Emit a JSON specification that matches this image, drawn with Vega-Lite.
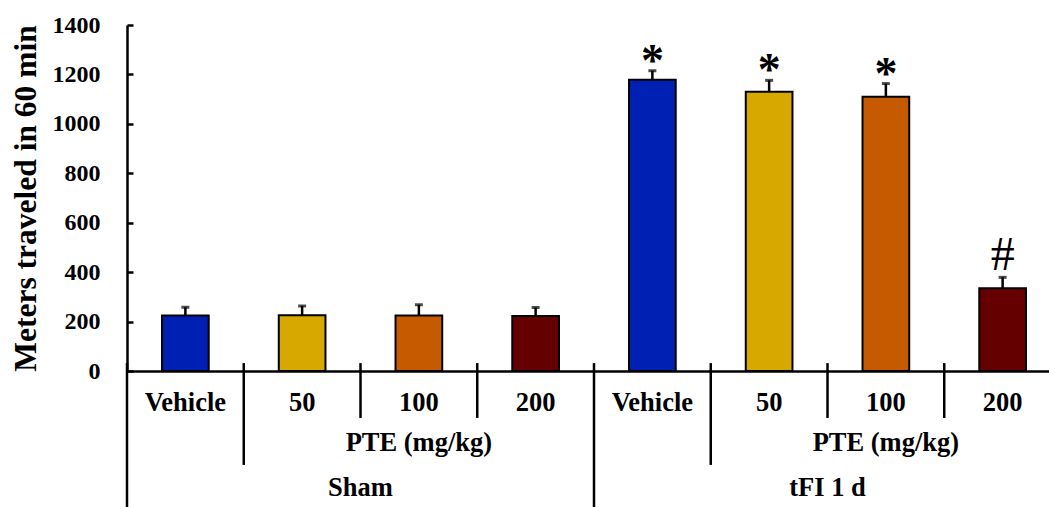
{
  "$schema": "https://vega.github.io/schema/vega-lite/v6.json",
  "autosize": "none",
  "padding": {"left": 127, "top": 25, "right": 0, "bottom": 136},
  "width": 934,
  "height": 346,
  "background": "white",
  "config": {"view": {"stroke": null}, "font": "Liberation Serif"},
  "datasets": {
    "bars": [
      {"key": "Sham|Vehicle", "group": "Sham", "dose": "Vehicle", "value": 225, "hi": 258, "sig": ""},
      {"key": "Sham|50", "group": "Sham", "dose": "50", "value": 226, "hi": 263, "sig": ""},
      {"key": "Sham|100", "group": "Sham", "dose": "100", "value": 225, "hi": 268, "sig": ""},
      {"key": "Sham|200", "group": "Sham", "dose": "200", "value": 223, "hi": 257, "sig": ""},
      {"key": "tFI 1 d|Vehicle", "group": "tFI 1 d", "dose": "Vehicle", "value": 1178, "hi": 1215, "sig": "*"},
      {"key": "tFI 1 d|50", "group": "tFI 1 d", "dose": "50", "value": 1130, "hi": 1176, "sig": "*"},
      {"key": "tFI 1 d|100", "group": "tFI 1 d", "dose": "100", "value": 1110, "hi": 1163, "sig": "*"},
      {"key": "tFI 1 d|200", "group": "tFI 1 d", "dose": "200", "value": 335, "hi": 379, "sig": "#"}
    ],
    "seps": [
      {"key": "Sham|Vehicle", "len": "long"},
      {"key": "Sham|50", "len": "mid"},
      {"key": "Sham|100", "len": "short"},
      {"key": "Sham|200", "len": "short"},
      {"key": "tFI 1 d|Vehicle", "len": "long"},
      {"key": "tFI 1 d|50", "len": "mid"},
      {"key": "tFI 1 d|100", "len": "short"},
      {"key": "tFI 1 d|200", "len": "short"}
    ],
    "groups": [
      {"key": "Sham|100", "group": "Sham", "sub": "PTE (mg/kg)"},
      {"key": "tFI 1 d|100", "group": "tFI 1 d", "sub": "PTE (mg/kg)"}
    ]
  },
  "layer": [
    {
      "data": {"name": "bars"},
      "mark": {"type": "bar", "width": {"band": 0.4}, "stroke": "black", "strokeWidth": 2},
      "encoding": {
        "x": {
          "field": "key", "type": "nominal",
          "scale": {
            "domain": ["Sham|Vehicle", "Sham|50", "Sham|100", "Sham|200", "tFI 1 d|Vehicle", "tFI 1 d|50", "tFI 1 d|100", "tFI 1 d|200"],
            "paddingInner": 0, "paddingOuter": 0
          },
          "axis": {"title": null, "labels": false, "ticks": false, "domain": true, "domainColor": "black", "domainWidth": 2.5, "grid": false}
        },
        "y": {
          "field": "value", "type": "quantitative",
          "scale": {"domain": [0, 1400], "nice": false, "zero": true},
          "axis": {
            "title": "Meters traveled in 60 min",
            "titleFont": "Liberation Serif", "titleFontSize": 31.5, "titleFontWeight": "bold", "titleColor": "black", "titlePadding": 10,
            "values": [0, 200, 400, 600, 800, 1000, 1200, 1400], "format": "d",
            "labelFont": "Liberation Serif", "labelFontSize": 24, "labelFontWeight": "bold", "labelColor": "black",
            "tickSize": -6, "tickColor": "black", "tickWidth": 2.5, "labelPadding": 33,
            "domainColor": "black", "domainWidth": 2.5, "grid": false
          }
        },
        "color": {
          "field": "dose", "type": "nominal",
          "scale": {"domain": ["Vehicle", "50", "100", "200"], "range": ["#0020B4", "#D6A800", "#C65A00", "#650000"]},
          "legend": null
        }
      }
    },
    {
      "data": {"name": "bars"},
      "mark": {"type": "rule", "color": "black", "strokeWidth": 2.5},
      "encoding": {
        "x": {"field": "key", "type": "nominal"},
        "y": {"field": "value", "type": "quantitative"},
        "y2": {"field": "hi"}
      }
    },
    {
      "data": {"name": "bars"},
      "mark": {"type": "tick", "color": "black", "size": 8, "thickness": 3},
      "encoding": {
        "x": {"field": "key", "type": "nominal"},
        "y": {"field": "hi", "type": "quantitative"}
      }
    },
    {
      "data": {"name": "bars"},
      "transform": [{"filter": "datum.sig == '*'"}],
      "mark": {"type": "text", "font": "Liberation Serif", "fontSize": 46, "fontWeight": "bold", "color": "black", "baseline": "alphabetic", "dy": 5},
      "encoding": {
        "x": {"field": "key", "type": "nominal"},
        "y": {"field": "hi", "type": "quantitative"},
        "text": {"field": "sig"}
      }
    },
    {
      "data": {"name": "bars"},
      "transform": [{"filter": "datum.sig == '#'"}],
      "mark": {"type": "text", "font": "Liberation Serif", "fontSize": 48, "fontWeight": "normal", "color": "black", "baseline": "alphabetic", "dy": -7},
      "encoding": {
        "x": {"field": "key", "type": "nominal"},
        "y": {"field": "hi", "type": "quantitative"},
        "text": {"field": "sig"}
      }
    },
    {
      "data": {"name": "seps"},
      "transform": [{"filter": "datum.len == 'short'"}],
      "mark": {"type": "rule", "color": "black", "strokeWidth": 2.5},
      "encoding": {
        "x": {"field": "key", "type": "nominal", "bandPosition": 0},
        "y": {"datum": 32},
        "y2": {"datum": -190}
      }
    },
    {
      "data": {"name": "seps"},
      "transform": [{"filter": "datum.len == 'mid'"}],
      "mark": {"type": "rule", "color": "black", "strokeWidth": 2.5},
      "encoding": {
        "x": {"field": "key", "type": "nominal", "bandPosition": 0},
        "y": {"datum": 32},
        "y2": {"datum": -380}
      }
    },
    {
      "data": {"name": "seps"},
      "transform": [{"filter": "datum.len == 'long'"}],
      "mark": {"type": "rule", "color": "black", "strokeWidth": 2.5},
      "encoding": {
        "x": {"field": "key", "type": "nominal", "bandPosition": 0},
        "y": {"datum": 32},
        "y2": {"datum": -600}
      }
    },
    {
      "data": {"name": "bars"},
      "mark": {"type": "text", "font": "Liberation Serif", "fontSize": 26.5, "fontWeight": "bold", "color": "black", "baseline": "alphabetic"},
      "encoding": {
        "x": {"field": "key", "type": "nominal"},
        "y": {"datum": -161},
        "text": {"field": "dose"}
      }
    },
    {
      "data": {"name": "groups"},
      "mark": {"type": "text", "font": "Liberation Serif", "fontSize": 26.5, "fontWeight": "bold", "color": "black", "baseline": "alphabetic"},
      "encoding": {
        "x": {"field": "key", "type": "nominal"},
        "y": {"datum": -322},
        "text": {"field": "sub"}
      }
    },
    {
      "data": {"name": "groups"},
      "mark": {"type": "text", "font": "Liberation Serif", "fontSize": 26.5, "fontWeight": "bold", "color": "black", "baseline": "alphabetic"},
      "encoding": {
        "x": {"field": "key", "type": "nominal", "bandPosition": 0},
        "y": {"datum": -506},
        "text": {"field": "group"}
      }
    }
  ]
}
